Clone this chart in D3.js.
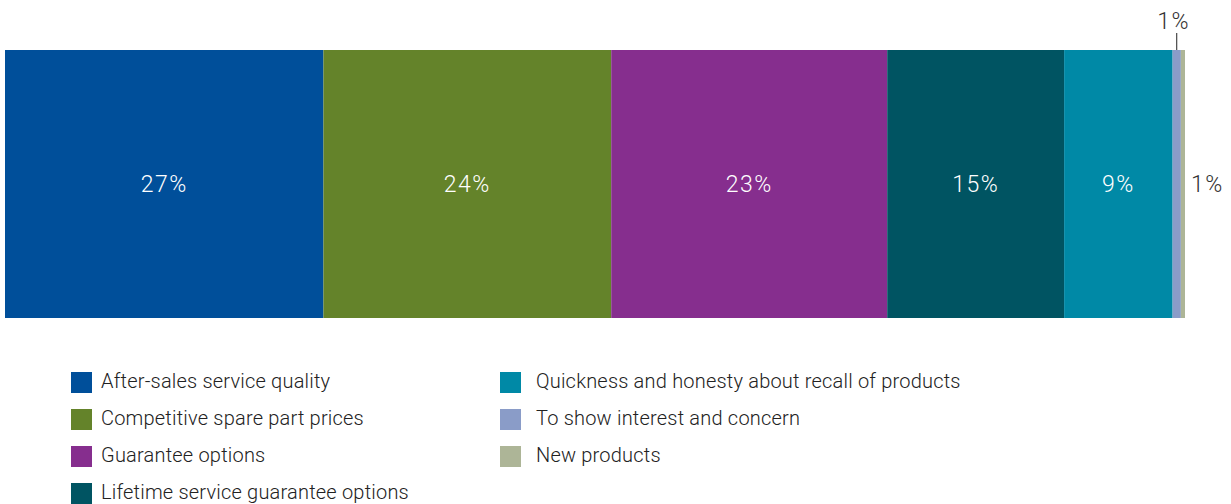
<!DOCTYPE html>
<html><head><meta charset="utf-8">
<script src="https://cdn.jsdelivr.net/npm/d3@7"></script>
<style>
body{margin:0;background:#fff;}
svg{display:block;font-family:Roboto,"Liberation Sans",sans-serif;}
</style></head>
<body><div id="chart"></div>
<script>
const categories = ["After-sales service quality","Competitive spare part prices","Guarantee options","Lifetime service guarantee options","Quickness and honesty about recall of products","To show interest and concern","New products"];
const values = [27.0, 24.4, 23.4, 15.0, 9.2, 0.7, 0.35];
const labels = ["27%","24%","23%","15%","9%","1%","1%"];
const colors = ["#004f9a","#64832a","#862e8e","#005462","#0089a6","#8a9cc8","#adb597"];

const W = 1231, H = 504;
const svg = d3.select("#chart").append("svg").attr("width", W).attr("height", H);

const total = d3.sum(values);
const x = d3.scaleLinear().domain([0, total]).range([5, 1185]);
const y = d3.scaleBand().domain(["all"]).range([50, 318]).padding(0);

let cum = 0;
const segs = values.map((v, i) => { const s = {i, v, x0: cum, x1: cum + v}; cum += v; return s; });

svg.selectAll("rect.seg").data(segs).join("rect")
  .attr("class","seg")
  .attr("x", d => x(d.x0)).attr("width", d => x(d.x1) - x(d.x0))
  .attr("y", y("all")).attr("height", y.bandwidth())
  .attr("fill", d => colors[d.i]);

const midY = y("all") + y.bandwidth()/2;
const pctStyle = sel => sel.attr("font-size",23).attr("font-weight",300).attr("letter-spacing","1.5px");
// inside labels
svg.selectAll("text.in").data(segs.filter(d => d.v >= 5)).join("text")
  .attr("class","in")
  .attr("x", d => (x(d.x0)+x(d.x1))/2).attr("y", midY)
  .attr("dy","0.35em").attr("text-anchor","middle")
  .attr("fill","#fff").call(pctStyle)
  .text(d => labels[d.i]);

// small segment 6: label above with leader
const s6 = segs[5];
const cx6 = (x(s6.x0)+x(s6.x1))/2;
svg.append("line").attr("x1",cx6).attr("x2",cx6).attr("y1",33).attr("y2",y("all"))
  .attr("stroke","#222").attr("stroke-width",1);
svg.append("text").attr("x",cx6-3).attr("y",29).attr("text-anchor","middle")
  .attr("fill","#333").call(pctStyle).text(labels[5]);
// small segment 7: label right
const s7 = segs[6];
svg.append("text").attr("x",x(s7.x1)+6).attr("y",midY).attr("dy","0.35em")
  .attr("fill","#333").call(pctStyle).text(labels[6]);

// legend
const legend = svg.append("g");
const items = legend.selectAll("g").data(categories).join("g")
  .attr("transform", (d,i) => {
    const col = i < 4 ? 0 : 1, row = i < 4 ? i : i - 4;
    return `translate(${col ? 500 : 71},${372 + row*37})`;
  });
items.append("rect").attr("width",21).attr("height",21).attr("fill",(d,i)=>colors[i]);
items.append("text").attr("x",(d,i) => i < 4 ? 30 : 36).attr("y",8.5).attr("dy","0.35em")
  .attr("font-size",20).attr("font-weight",300).attr("letter-spacing","0.2px").attr("fill","#222").text(d=>d);
</script></body></html>
